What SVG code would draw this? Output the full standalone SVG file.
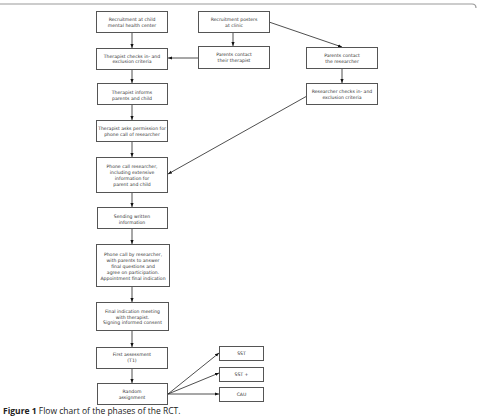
<svg xmlns="http://www.w3.org/2000/svg" width="477" height="416" viewBox="0 0 477 416">
<style>
.b rect{fill:#fff;stroke:#555;stroke-width:1}
.b text{font-family:"DejaVu Sans",sans-serif;font-size:4.6px;fill:#333;text-anchor:middle}
.c line{stroke:#222;stroke-width:0.8;marker-end:url(#ah)}
.cap{font-family:"Open Sans","Liberation Sans",sans-serif;font-size:8.5px;fill:#222}
</style>
<defs>
<marker id="ah" viewBox="0 0 10 10" refX="10" refY="5" markerWidth="5" markerHeight="5" orient="auto" markerUnits="strokeWidth">
<path d="M0,1 L10,5 L0,9 z" fill="#111"/>
</marker>
</defs>
<rect width="477" height="416" fill="#fff"/>
<path d="M0,4 H472 Q476,4 476,8" fill="none" stroke="#999" stroke-width="1.2"/>
<g class="c">
<line x1="132" y1="33" x2="132" y2="48"/>
<line x1="233" y1="32" x2="233" y2="46"/>
<line x1="198" y1="58" x2="168" y2="58"/>
<line x1="269" y1="22" x2="342" y2="47"/>
<line x1="342" y1="69" x2="342" y2="83"/>
<line x1="307" y1="96" x2="168" y2="174"/>
<line x1="132" y1="69" x2="132" y2="83"/>
<line x1="132" y1="105" x2="132" y2="120"/>
<line x1="132" y1="142" x2="132" y2="157"/>
<line x1="132" y1="193" x2="132" y2="207"/>
<line x1="132" y1="229" x2="132" y2="244"/>
<line x1="132" y1="287" x2="132" y2="302"/>
<line x1="132" y1="331" x2="132" y2="347"/>
<line x1="132" y1="368" x2="132" y2="383"/>
<line x1="168" y1="394" x2="219" y2="353"/>
<line x1="168" y1="394" x2="219" y2="373"/>
<line x1="168" y1="394" x2="219" y2="394"/>
</g>
<g id="n1" class="b"><rect x="96.5" y="11.5" width="71" height="21"/><text x="132" y="20.5">Recruitment at child</text><text x="132" y="26.5">mental health center</text></g>
<g id="n2" class="b"><rect x="198.5" y="11.5" width="71" height="21"/><text x="234" y="20.5">Recruitment posters</text><text x="234" y="26.5">at clinic</text></g>
<g id="n3" class="b"><rect x="96.5" y="48.5" width="71" height="21"/><text x="132" y="57.5">Therapist checks in- and</text><text x="132" y="63">exclusion criteria</text></g>
<g id="n4" class="b"><rect x="198.5" y="46.5" width="71" height="22"/><text x="234" y="56">Parents contact</text><text x="234" y="62">their therapist</text></g>
<g id="n5" class="b"><rect x="306.5" y="47.5" width="71" height="21"/><text x="342" y="56.5">Parents contact</text><text x="342" y="62.5">the researcher</text></g>
<g id="n6" class="b"><rect x="306.5" y="83.5" width="71" height="21"/><text x="342" y="92.5">Researcher checks in- and</text><text x="342" y="98.5">exclusion criteria</text></g>
<g id="n7" class="b"><rect x="97.5" y="83.5" width="70" height="21"/><text x="132" y="93.5">Therapist informs</text><text x="132" y="99.5">parents and child</text></g>
<g id="n8" class="b"><rect x="96.5" y="120.5" width="71" height="21"/><text x="132" y="129.5">Therapist asks permission for</text><text x="132" y="135.5">phone call of researcher</text></g>
<g id="n9" class="b"><rect x="96.5" y="157.5" width="71" height="35"/><text x="132" y="167.5">Phone call researcher,</text><text x="132" y="173.5">including extensive</text><text x="132" y="179.5">information for</text><text x="132" y="185.5">parent and child</text></g>
<g id="n10" class="b"><rect x="97.5" y="207.5" width="70" height="21"/><text x="132" y="217.5">Sending written</text><text x="132" y="223.5">information</text></g>
<g id="n11" class="b"><rect x="96.5" y="244.5" width="73" height="42"/><text x="133" y="255.5">Phone call by researcher,</text><text x="133" y="261.5">with parents to answer</text><text x="133" y="267.5">final questions and</text><text x="133" y="273.5">agree on participation.</text><text x="133" y="279.5">Appointment final indication</text></g>
<g id="n12" class="b"><rect x="96.5" y="302.5" width="72" height="28"/><text x="132.5" y="312.5">Final indication meeting</text><text x="132.5" y="318.5">with therapist.</text><text x="132.5" y="324">Signing informed consent</text></g>
<g id="n13" class="b"><rect x="96.5" y="347.5" width="71" height="21"/><text x="132" y="355.5">First assessment</text><text x="132" y="361.5">(T1)</text></g>
<g id="n14" class="b"><rect x="97.5" y="383.5" width="70" height="21"/><text x="132" y="392.5">Random</text><text x="132" y="398.5">assignment</text></g>
<g id="n15" class="b"><rect x="219.5" y="346.5" width="44" height="14"/><text x="241.5" y="355.2">SST</text></g>
<g id="n16" class="b"><rect x="219.5" y="367.5" width="44" height="14"/><text x="241.5" y="376.2">SST +</text></g>
<g id="n17" class="b"><rect x="219.5" y="387.5" width="44" height="14"/><text x="241.5" y="396.2">CAU</text></g>
<text class="cap" x="3" y="413.5"><tspan font-weight="bold">Figure 1</tspan> Flow chart of the phases of the RCT.</text>
</svg>
